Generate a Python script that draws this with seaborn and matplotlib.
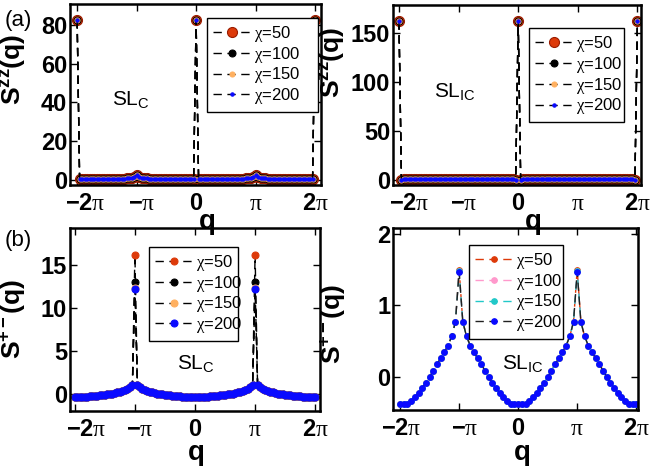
import numpy as np
import pandas as pd
import matplotlib
matplotlib.use("Agg")
import matplotlib.pyplot as plt
from matplotlib.transforms import ScaledTranslation
import seaborn as sns

# ---------------------------------------------------------------- data
chi_labels = ["50", "100", "150", "200"]

# S^zz(q), commensurate phase (q from -2pi to 2pi, step pi/24)
szz_c = [82.5, 0.4, 0.5, 0.55, 0.55, 0.6, 0.6, 0.6, 0.6, 0.6, 0.6, 0.6, 0.6, 0.6, 0.6,
         0.65, 0.65, 0.7, 0.7, 0.75, 0.8, 0.9, 1.1, 1.6, 2.6,
         1.6, 1.1, 0.9, 0.8, 0.75, 0.7, 0.7, 0.65, 0.65, 0.6, 0.6, 0.6, 0.6, 0.6,
         0.6, 0.6, 0.6, 0.6, 0.6, 0.55, 0.55, 0.5, 0.4, 82.5,
         0.4, 0.5, 0.55, 0.55, 0.6, 0.6, 0.6, 0.6, 0.6, 0.6, 0.6, 0.6, 0.6, 0.6,
         0.65, 0.65, 0.7, 0.7, 0.75, 0.8, 0.9, 1.1, 1.6, 2.6,
         1.6, 1.1, 0.9, 0.8, 0.75, 0.7, 0.7, 0.65, 0.65, 0.6, 0.6, 0.6, 0.6, 0.6,
         0.6, 0.6, 0.6, 0.6, 0.6, 0.55, 0.55, 0.5, 0.4, 82.5]
szz_c_peak = [82.5, 82.5, 82.5, 82.5]

# S^zz(q), incommensurate phase
szz_ic = [162.0, 0.4, 0.6, 0.6, 0.6, 0.6, 0.6, 0.6, 0.6, 0.6, 0.6, 0.6, 0.6, 0.6, 0.6,
          0.6, 0.6, 0.6, 0.6, 0.6, 0.6, 0.6, 0.6, 0.6, 0.6,
          0.6, 0.6, 0.6, 0.6, 0.6, 0.6, 0.6, 0.6, 0.6, 0.6, 0.6, 0.6, 0.6, 0.6,
          0.6, 0.6, 0.6, 0.6, 0.6, 0.6, 0.6, 0.6, 0.4, 162.0,
          0.4, 0.6, 0.6, 0.6, 0.6, 0.6, 0.6, 0.6, 0.6, 0.6, 0.6, 0.6, 0.6, 0.6,
          0.6, 0.6, 0.6, 0.6, 0.6, 0.6, 0.6, 0.6, 0.6, 0.6,
          0.6, 0.6, 0.6, 0.6, 0.6, 0.6, 0.6, 0.6, 0.6, 0.6, 0.6, 0.6, 0.6, 0.6,
          0.6, 0.6, 0.6, 0.6, 0.6, 0.6, 0.6, 0.6, 0.4, 162.0]
szz_ic_peak = [162.0, 162.0, 162.0, 162.0]

# S^{+-}(q), commensurate phase
spm_c = [-0.37, -0.36, -0.35, -0.33, -0.31, -0.29, -0.27, -0.24, -0.21, -0.18, -0.15,
         -0.11, -0.07, -0.03, 0.02, 0.07, 0.13, 0.2, 0.28, 0.38, 0.5, 0.65, 0.85, 1.1, 12.2,
         1.1, 0.85, 0.65, 0.5, 0.38, 0.28, 0.2, 0.13, 0.07, 0.02, -0.03, -0.07, -0.11,
         -0.15, -0.18, -0.21, -0.24, -0.27, -0.29, -0.31, -0.33, -0.35, -0.36, -0.37,
         -0.36, -0.35, -0.33, -0.31, -0.29, -0.27, -0.24, -0.21, -0.18, -0.15,
         -0.11, -0.07, -0.03, 0.02, 0.07, 0.13, 0.2, 0.28, 0.38, 0.5, 0.65, 0.85, 1.1, 12.2,
         1.1, 0.85, 0.65, 0.5, 0.38, 0.28, 0.2, 0.13, 0.07, 0.02, -0.03, -0.07, -0.11,
         -0.15, -0.18, -0.21, -0.24, -0.27, -0.29, -0.31, -0.33, -0.35, -0.36, -0.37]
spm_c_peak = [16.2, 13.0, 12.3, 12.2]

# S^{+-}(q), incommensurate phase (q from -2pi to 2pi, step pi/16)
spm_ic = [-0.37, -0.37, -0.37, -0.33, -0.28, -0.22, -0.15, -0.08, 0.0, 0.09, 0.18,
          0.26, 0.35, 0.44, 0.57, 0.77, 1.47,
          0.77, 0.57, 0.44, 0.35, 0.26, 0.18, 0.09, 0.0, -0.08, -0.15, -0.22, -0.28,
          -0.33, -0.37, -0.37, -0.37,
          -0.37, -0.37, -0.33, -0.28, -0.22, -0.15, -0.08, 0.0, 0.09, 0.18,
          0.26, 0.35, 0.44, 0.57, 0.77, 1.47,
          0.77, 0.57, 0.44, 0.35, 0.26, 0.18, 0.09, 0.0, -0.08, -0.15, -0.22, -0.28,
          -0.33, -0.37, -0.37, -0.37]
spm_ic_peak = [1.50, 1.48, 1.48, 1.47]

q_fine = np.linspace(-2 * np.pi, 2 * np.pi, len(szz_c))
q_coarse = np.linspace(-2 * np.pi, 2 * np.pi, len(spm_ic))

xtick_vals = [-2 * np.pi, -np.pi, 0, np.pi, 2 * np.pi]
xtick_text = [r"$\mathbf{-2}\mathrm{\pi}$", r"$\mathbf{-}\mathrm{\pi}$", r"$\mathbf{0}$",
              r"$\mathrm{\pi}$", r"$\mathbf{2}\mathrm{\pi}$"]

# ---------------------------------------------------------------- style
sns.set_style("ticks")
plt.rcParams.update({
    "font.family": ["Liberation Sans", "DejaVu Sans"],
    "mathtext.fontset": "custom",
    "mathtext.rm": "Liberation Serif",
    "mathtext.it": "Liberation Serif:italic",
    "mathtext.bf": "Liberation Sans:bold",
    "mathtext.sf": "Liberation Sans",
    "axes.edgecolor": "black",
    "xtick.color": "black",
    "ytick.color": "black",
    "text.color": "black",
    "axes.labelcolor": "black",
})

RED = "#dd3a0a"
ORANGE = "#ffb060"
BLUE = "#0a0aff"

W, H = 651, 474
fig = plt.figure(figsize=(W / 100, H / 100), dpi=100)


def box(l, t, r, b):
    return [l / W, 1 - b / H, (r - l) / W, (b - t) / H]


ax_a = fig.add_axes(box(70, 4, 321, 185))
ax_b = fig.add_axes(box(393, 5, 641, 185))
ax_c = fig.add_axes(box(70, 228, 320, 411))
ax_d = fig.add_axes(box(393, 228, 638, 410))

DASH = (0, (6, 4))


def draw(ax, q, base, peaks, marks):
    base = np.asarray(base, dtype=float)
    top = base.max()
    lines = []
    for j, chi in enumerate(chi_labels):
        y = np.where(base == top, peaks[j], base)
        df = pd.DataFrame({"q": q, "S": y})
        face, size, edge, lcol = marks[j]
        sns.lineplot(data=df, x="q", y="S", ax=ax, errorbar=None, sort=False,
                     color=lcol, linestyle=DASH, linewidth=1.0,
                     marker="o", markersize=size, markerfacecolor=face,
                     markeredgecolor=edge, markeredgewidth=0.8,
                     label=chi, legend=False)
        lines.append(ax.lines[-1])
    return lines


marks_zz = [(RED, 7.2, "#9a1c00", "k"), ("k", 5.0, "k", "k"),
            (ORANGE, 3.6, ORANGE, "k"), (BLUE, 2.4, BLUE, "k")]
marks_pm_c = [(RED, 5.0, RED, "k"), ("k", 5.0, "k", "k"),
              (ORANGE, 5.0, ORANGE, "k"), (BLUE, 5.0, BLUE, "k")]
marks_pm_ic = [(RED, 4.0, RED, RED), ("#ff99cc", 4.0, "#ff99cc", "#ff99cc"),
               ("#22c8c8", 4.0, "#22c8c8", "#22c8c8"), (BLUE, 4.0, BLUE, "#202020")]

panels = [
    dict(ax=ax_a, q=q_fine, base=szz_c, peaks=szz_c_peak, marks=marks_zz,
         yt=[0, 20, 40, 60, 80], ylim=(-2.6, 90.8), xl=(-2.12, 2.1),
         shift=[8, 5, 0, 0, 0],
         ylab=r"$\mathbf{S^{zz}(q)}$", ylab_at=(-0.167, 0.64),
         leg_box=(0.546, 0.923, 0.442), tag=r"SL$_\mathsf{C}$", tag_xy=(112, 105),
         q_xy=(207, 229)),
    dict(ax=ax_b, q=q_fine, base=szz_ic, peaks=szz_ic_peak, marks=marks_zz,
         yt=[0, 50, 100, 150], ylim=(-5.1, 178.6), xl=(-2.1, 2.06),
         shift=[10, 5, 0, 0, 0],
         ylab=r"$\mathbf{S^{zz}(q)}$", ylab_at=(-0.185, 0.68),
         leg_box=(0.548, 0.872, 0.383), tag=r"SL$_\mathsf{IC}$", tag_xy=(434, 97),
         q_xy=(533, 229)),
    dict(ax=ax_c, q=q_fine, base=spm_c, peaks=spm_c_peak, marks=marks_pm_c,
         yt=[0, 5, 10, 15], ylim=(-1.96, 19.3), xl=(-2.08, 2.08),
         shift=[11, 5, 0, 0, 0],
         ylab=r"$\mathbf{S^{+-}(q)}$", ylab_at=(-0.168, 0.5),
         leg_box=(0.316, 0.897, 0.356), tag=r"SL$_\mathsf{C}$", tag_xy=(177, 369),
         q_xy=(196, 460)),
    dict(ax=ax_d, q=q_coarse, base=spm_ic, peaks=spm_ic_peak, marks=marks_pm_ic,
         yt=[0, 1, 2], ylim=(-0.46, 2.08), xl=(-2.12, 2.03),
         shift=[1, 6, 0, 0, 0],
         ylab=r"$\mathbf{S^{+-}(q)}$", ylab_at=(-0.184, 0.47),
         leg_box=(0.31, 0.907, 0.384), tag=r"SL$_\mathsf{IC}$", tag_xy=(502, 369),
         q_xy=(522, 460)),
]

for p in panels:
    ax = p["ax"]
    lines = draw(ax, p["q"], p["base"], p["peaks"], p["marks"])
    ax.set_xlim(p["xl"][0] * np.pi, p["xl"][1] * np.pi)
    ax.set_ylim(*p["ylim"])
    ax.set_xticks(xtick_vals)
    ax.set_xticklabels(xtick_text)
    ax.set_yticks(p["yt"])
    ax.tick_params(direction="in", length=5, width=1, top=True, right=True,
                   labelsize=17)
    ax.tick_params(axis="x", pad=6)
    ax.tick_params(axis="y", pad=2)
    for lab in ax.get_yticklabels():
        lab.set_fontweight("bold")
    # negative labels sit a little to the right of their ticks
    for lab, dx in zip(ax.get_xticklabels(), p["shift"]):
        lab.set_transform(lab.get_transform()
                          + ScaledTranslation(dx / 100, 0, fig.dpi_scale_trans))
    for sp in ax.spines.values():
        sp.set_linewidth(1.8)
        sp.set_visible(True)
        sp.set_color("black")
    ax.set_xlabel("")
    ax.set_ylabel(p["ylab"], fontsize=19)
    ax.yaxis.set_label_coords(*p["ylab_at"])

    x0, ytop, wid = p["leg_box"]
    labels = [r"$\mathrm{\chi}$=" + c for c in chi_labels]
    leg = ax.legend(handles=lines, labels=labels, loc="upper left", mode="expand",
                    bbox_to_anchor=(x0, ytop - 0.5, wid, 0.5), borderaxespad=0,
                    fontsize=12, frameon=True, fancybox=False, framealpha=1,
                    edgecolor="k", handlelength=2.3, handletextpad=0.15,
                    labelspacing=0.05, borderpad=0.35, numpoints=1)
    leg.get_frame().set_linewidth(1.0)

    fig.text(p["tag_xy"][0] / W, 1 - p["tag_xy"][1] / H, p["tag"], fontsize=15,
             ha="left", va="baseline")
    fig.text(p["q_xy"][0] / W, 1 - p["q_xy"][1] / H, "q", fontsize=20,
             fontweight="bold", ha="center", va="baseline")

fig.text(5 / W, 1 - 26 / H, "(a)", fontsize=16, ha="left", va="baseline")
fig.text(5 / W, 1 - 246 / H, "(b)", fontsize=16, ha="left", va="baseline")

fig.savefig("out.png", dpi=100)
